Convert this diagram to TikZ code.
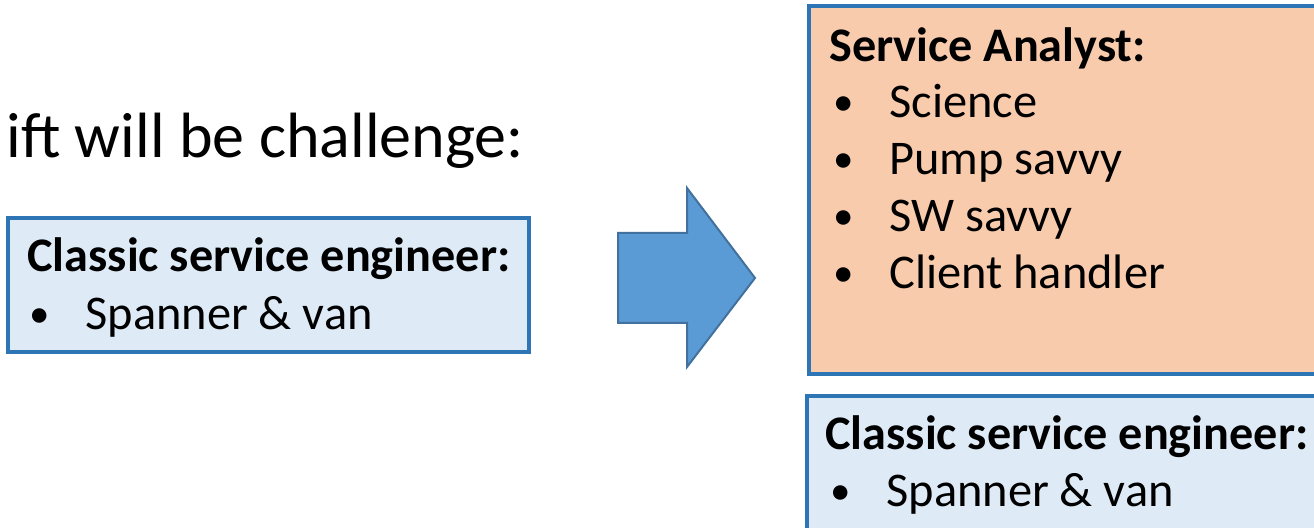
\documentclass[tikz,border=0pt]{standalone}
\usepackage{fontspec}
\setmainfont{Carlito}
\usepackage{xcolor}
\usetikzlibrary{positioning}
\definecolor{paleblue}{HTML}{DEEBF7}
\definecolor{edgeblue}{HTML}{2E75B6}
\definecolor{peach}{HTML}{F8CBAD}
\definecolor{arrowblue}{HTML}{5B9BD5}
\definecolor{arrowedge}{HTML}{41719C}
\newcommand{\bul}[1]{\makebox[29pt][l]{\hspace{1pt}\raisebox{1.1pt}{\fontsize{20.5}{20}\selectfont\textbullet}}#1}

\begin{document}
\begin{tikzpicture}[x=0.5pt,y=-0.5pt,
  box/.style={draw=edgeblue,line width=1.6pt},
  line/.style={anchor=base west,inner sep=0pt,font=\fontsize{24.2}{29}\selectfont},
  head/.style={line,font=\fontsize{24.1}{29}\selectfont\bfseries}]
  \useasboundingbox (0,0) rectangle (1314,528);
  \clip (0,0) rectangle (1314,528);

  % heading, cut at the left
  \node[line,font=\fontsize{32}{38}\selectfont] (title) at (6,158) {ift will be challenge:};

  % old role
  \draw[box,fill=paleblue] (8,218) rectangle (529,352);
  \node[head] (oldhead) at (27,272) {Classic service engineer:};
  \node[line] (olditem) at (27,330) {\bul{Spanner \& van}};

  % the shift
  \draw[draw=arrowedge,line width=1pt,fill=arrowblue]
    (618,233) -- (687,233) -- (687,188) -- (755,278) -- (687,367) -- (687,323) -- (618,323) -- cycle;

  % new roles
  \draw[box,fill=peach] (809,6) rectangle (1330,374);
  \node[head] (anahead) at (829,62) {Service Analyst:};
  \foreach \y/\txt [count=\i] in {118/Science,175/Pump savvy,232/SW savvy,289/Client handler}
    \node[line] (anaitem\i) at (831,\y) {\bul{\txt}};

  \draw[box,fill=paleblue] (807,396) rectangle (1330,540);
  \node[head] (newhead) at (825,450) {Classic service engineer:};
  \node[line] (newitem) at (828,507) {\bul{Spanner \& van}};
\end{tikzpicture}
\end{document}
